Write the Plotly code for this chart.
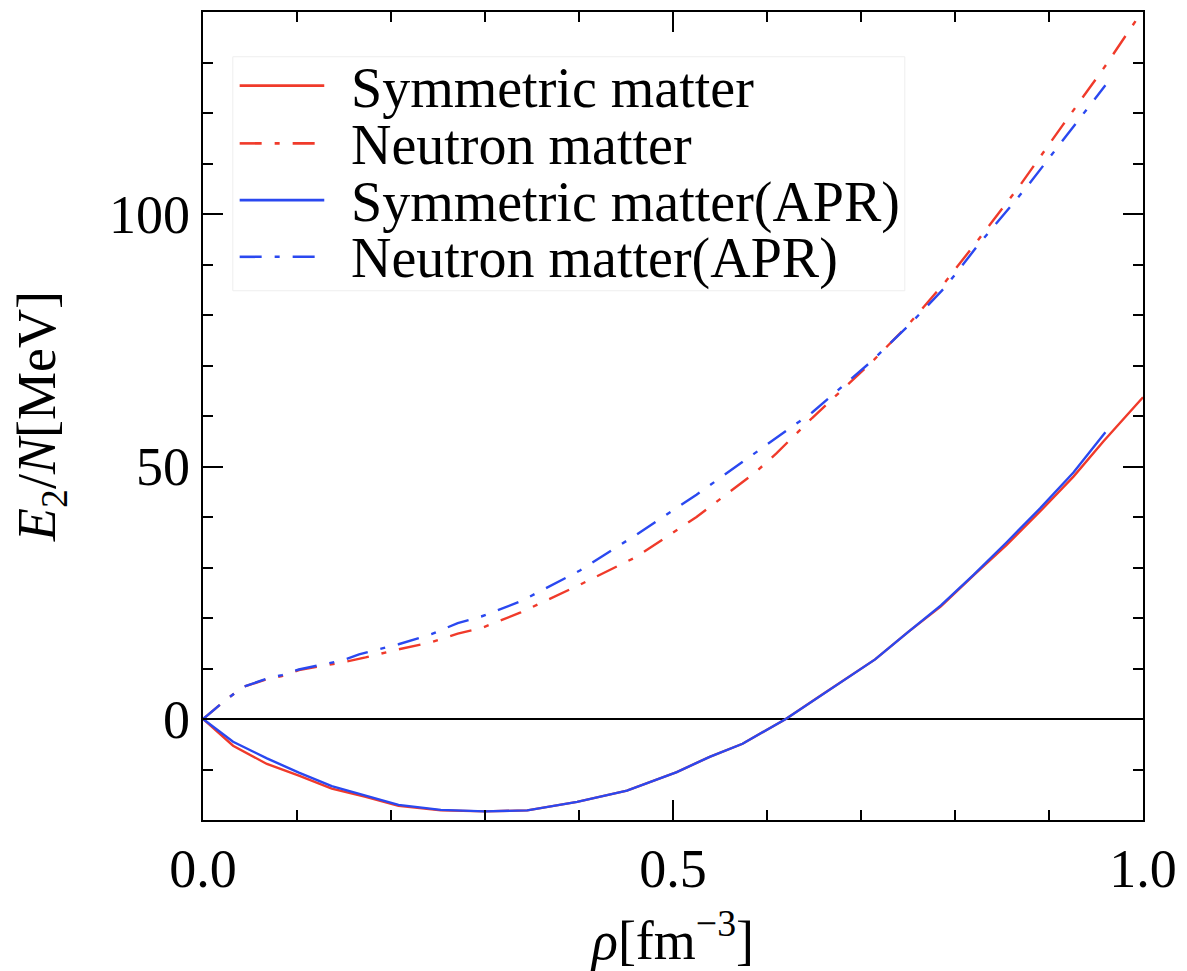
import plotly.graph_objects as go

# --- data ---
sym_x = [0, 0.032, 0.068, 0.102, 0.137, 0.173, 0.208, 0.253, 0.30, 0.345, 0.398, 0.451,
         0.504, 0.539, 0.574, 0.62, 0.66, 0.715, 0.75, 0.785, 0.82, 0.855, 0.891, 0.926, 0.958, 1.0]
sym_y = [0, -5.3, -8.9, -11.2, -13.8, -15.4, -17.2, -18.1, -18.3, -18.1, -16.4, -14.2,
         -10.5, -7.5, -4.9, 0, 5.0, 11.8, 17.2, 22.3, 28.5, 34.5, 41.2, 48.0, 55.0, 63.7]

apr_sym_x = [0, 0.032, 0.068, 0.102, 0.137, 0.173, 0.208, 0.253, 0.30, 0.345, 0.398, 0.451,
             0.504, 0.539, 0.574, 0.62, 0.66, 0.715, 0.75, 0.785, 0.82, 0.855, 0.891, 0.926, 0.96]
apr_sym_y = [0, -4.5, -7.8, -10.6, -13.3, -15.2, -17.0, -18.0, -18.3, -18.1, -16.4, -14.2,
             -10.5, -7.5, -4.9, 0, 5.0, 11.8, 17.2, 22.5, 28.6, 35.0, 41.8, 48.8, 56.8]

neu_x = [0, 0.021, 0.042, 0.068, 0.084, 0.102, 0.148, 0.173, 0.208, 0.243, 0.271, 0.296,
         0.338, 0.401, 0.461, 0.525, 0.588, 0.61, 0.648, 0.711, 0.75, 0.789, 0.824, 0.87,
         0.915, 0.961, 1.0]
neu_y = [0, 3.3, 6.3, 7.9, 8.5, 9.7, 11.2, 12.2, 13.8, 15.2, 16.9, 18.0,
         21.1, 26.6, 32.1, 40.0, 48.9, 52.6, 59.6, 70.6, 78.0, 86.4, 94.7, 105.9,
         117.7, 129.6, 140.4]

apr_neu_x = [0, 0.021, 0.042, 0.068, 0.084, 0.102, 0.148, 0.166, 0.208, 0.243, 0.271, 0.296,
             0.338, 0.401, 0.461, 0.525, 0.586, 0.648, 0.711, 0.75, 0.789, 0.824, 0.877,
             0.926, 0.96]
apr_neu_y = [0, 3.3, 6.3, 8.0, 8.7, 9.8, 11.6, 12.8, 14.8, 16.8, 19.0, 20.3,
             23.3, 29.4, 36.5, 44.4, 52.5, 60.7, 70.8, 77.8, 85.4, 93.7, 105.5,
             117.4, 125.5]

names = ["Symmetric matter", "Neutron matter", "Symmetric matter(APR)", "Neutron matter(APR)"]
x_ticks = [0.0, 0.5, 1.0]
x_tick_text = ["0.0", "0.5", "1.0"]
y_ticks = [0, 50, 100]
y_tick_text = ["0", "50", "100"]

RED = "#F03A2A"
BLUE = "#2A48F0"
DASHDOT = "22px,13px,5px,13px"
FONT = "Liberation Serif, Times New Roman, serif"

series = [
    (sym_x, sym_y, RED, "solid"),
    (neu_x, neu_y, RED, DASHDOT),
    (apr_sym_x, apr_sym_y, BLUE, "solid"),
    (apr_neu_x, apr_neu_y, BLUE, DASHDOT),
]

fig = go.Figure()
for (xs, ys, col, dash), nm in zip(series, names):
    fig.add_trace(go.Scatter(x=xs, y=ys, mode="lines", name=nm, showlegend=False,
                             line=dict(color=col, width=2.4, dash=dash)))

axis_common = dict(
    showgrid=False, showline=True, linecolor="black", linewidth=2.2,
    mirror="allticks", ticks="inside", ticklen=20, tickwidth=2, tickcolor="black",
    tickfont=dict(family=FONT, size=54, color="black"),
)

fig.update_xaxes(
    range=[0, 1], tickmode="array", tickvals=x_ticks, ticktext=x_tick_text,
    zeroline=False,
    minor=dict(dtick=0.1, ticks="inside", ticklen=10, tickwidth=2, tickcolor="black"),
    title=dict(text="<i>ρ</i>[fm<sup>−3</sup>]", font=dict(family=FONT, size=54, color="black"),
               standoff=24),
    **axis_common,
)
fig.update_yaxes(
    range=[-20, 140], tickmode="array", tickvals=y_ticks, ticktext=y_tick_text,
    zeroline=True, zerolinecolor="black", zerolinewidth=2.2,
    minor=dict(dtick=10, tick0=0, ticks="inside", ticklen=10, tickwidth=2, tickcolor="black"),
    title=dict(text="<i>E</i><sub>2</sub>/<i>N</i>[MeV]", font=dict(family=FONT, size=54, color="black"),
               standoff=36),
    **axis_common,
)

# --- legend box drawn in paper coordinates ---
box = dict(x0=0.0317, x1=0.7466, y0=0.655, y1=0.9446)
row_y = [0.9089, 0.8374, 0.7672, 0.6970]
line_x0, line_x1, text_x = 0.039, 0.129, 0.155

shapes = [dict(type="rect", xref="paper", yref="paper", layer="above",
               x0=box["x0"], x1=box["x1"], y0=box["y0"], y1=box["y1"],
               fillcolor="white", line=dict(color="#EEEEEE", width=1))]
annotations = []
for (xs, ys, col, dash), nm, ry in zip(series, names, row_y):
    shapes.append(dict(type="line", xref="paper", yref="paper", layer="above",
                       x0=line_x0, x1=line_x1, y0=ry, y1=ry,
                       line=dict(color=col, width=2.6, dash=dash)))
    annotations.append(dict(text=nm, xref="paper", yref="paper", x=text_x, y=ry,
                            xanchor="left", yanchor="middle", showarrow=False,
                            yshift=-2,
                            font=dict(family=FONT, size=56, color="black")))

fig.update_layout(
    width=1187, height=971,
    margin=dict(l=203, r=37, t=10, b=149),
    paper_bgcolor="white", plot_bgcolor="white",
    font=dict(family=FONT, color="black"),
    showlegend=False,
    shapes=shapes, annotations=annotations,
)

fig.write_html("out.html")
